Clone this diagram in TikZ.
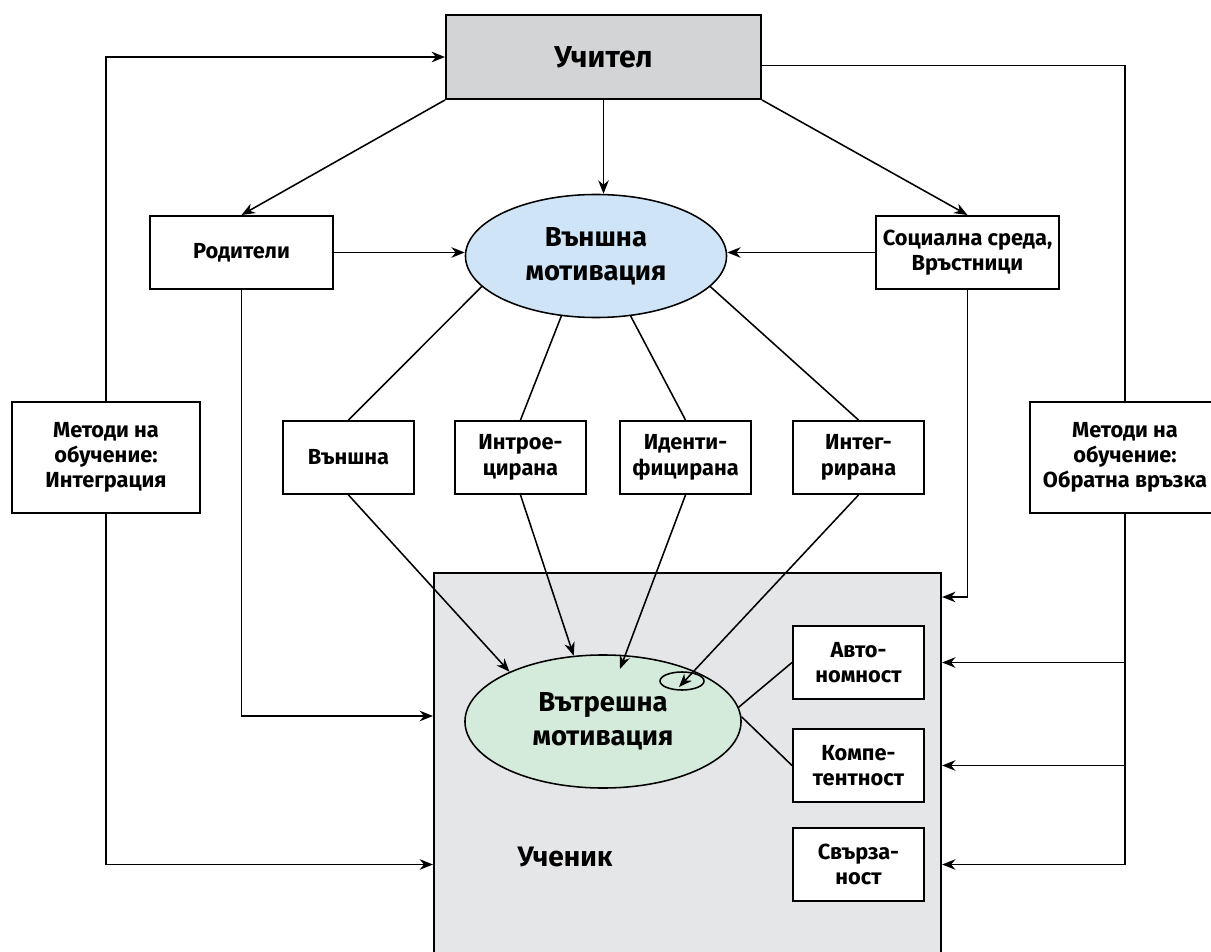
\documentclass[tikz,border=0pt]{standalone}
\usepackage{fontspec}
\setmainfont{Fira Sans}[Language=Bulgarian]
\usetikzlibrary{arrows.meta,shapes.geometric,calc}

\definecolor{uchitelgray}{RGB}{211,212,214}
\definecolor{vanshnablue}{RGB}{207,228,246}
\definecolor{vatreshnagreen}{RGB}{212,234,218}
\definecolor{ucenikgray}{RGB}{229,230,232}

\begin{document}
\begin{tikzpicture}[x=0.025cm,y=-0.025cm,
	box/.style={draw,line width=1.4pt,fill=white,align=center,inner sep=0pt,
		minimum width=3.275cm,minimum height=1.825cm,font=\fontsize{15.5}{18}\selectfont\bfseries},
	wide/.style={box,minimum width=4.575cm},
	metod/.style={box,minimum width=4.7cm,minimum height=2.775cm},
	motiv/.style={draw,ellipse,line width=1.1pt,inner sep=0pt,align=center,
		font=\fontsize{19.5}{24}\selectfont\bfseries},
	arr/.style={line width=1.1pt,-{Stealth[length=9.5pt,width=7.5pt]}},
	link/.style={line width=1.1pt}]
	
	\useasboundingbox (0,0) rectangle (1211,952);
	
	\node[box,fill=ucenikgray,anchor=north west,minimum width=12.675cm,minimum height=9.9cm] (ucenik) at (433,572) {};
	\node[font=\fontsize{20}{24}\selectfont\bfseries] (uceniktext) at (565,857) {Ученик};
	
	\node[box,fill=uchitelgray,minimum width=7.875cm,minimum height=2.1cm,font=\fontsize{21.5}{24}\selectfont\bfseries] (uchitel) at (603.5,57) {Учител};
	\node[wide] (roditeli) at (241.5,252.5) {Родители};
	\node[wide] (sotsialna) at (967.5,252.5) {Социална среда,\\Връстници};
	\node[motiv,fill=vanshnablue,minimum width=6.525cm,minimum height=3.075cm] (vanshna) at (596,256) {Външна\\мотивация};
	
	\node[metod] (ml) at (106,457.5) {Методи на\\обучение:\\Интеграция};
	\node[metod,minimum width=4.75cm] (mr) at (1125,457.5) {Методи на\\обучение:\\Обратна връзка};
	
	\node[box] (vn) at (348.5,457.5) {Външна};
	\node[box] (intro) at (520.5,457.5) {Интрое-\\цирана};
	\node[box] (ident) at (685.5,457.5) {Иденти-\\фицирана};
	\node[box] (integ) at (858.5,457.5) {Интег-\\рирана};
	
	\node[motiv,fill=vatreshnagreen,minimum width=6.9cm,minimum height=3.325cm] (vatreshna) at (603,721.5) {Вътрешна\\мотивация};
	\node[draw,ellipse,line width=1.1pt,minimum width=1.1cm,minimum height=0.45cm] (fokus) at (682,681) {};
	\coordinate (tip3) at (620,669);
	\coordinate (tip4) at (679,687);
	
	\node[box] (avt) at (858.5,662.5) {Авто-\\номност};
	\node[box] (komp) at (858.5,765.5) {Компе-\\тентност};
	\node[box] (svarz) at (858.5,864.5) {Свърза-\\ност};
	
	\draw[arr] (uchitel.south west) -- (roditeli.north);
	\draw[arr] (uchitel.south) -- (uchitel.south |- vanshna.north);
	\draw[arr] (uchitel.south east) -- (sotsialna.north);
	\draw[arr] (roditeli.east) -- (vanshna.west |- roditeli.east);
	\draw[arr] (sotsialna.west) -- (vanshna.east |- sotsialna.west);
	
	\draw[link] (vanshna.195) -- (vn.north);
	\draw[link] (vanshna.240) -- (intro.north);
	\draw[link] (vanshna.300) -- (ident.north);
	\draw[link] (vanshna.345) -- (integ.north);
	
	\draw[arr] (vn.south) -- (vatreshna.152);
	\draw[arr] (intro.south) -- (vatreshna.114);
	\draw[arr] (ident.south) -- (tip3);
	\draw[arr] (integ.south) -- (tip4);
	
	\draw[link] (vatreshna.6) -- (avt.west);
	\draw[link] (vatreshna.2) -- (komp.west);
	
	\draw[arr] (roditeli.south) |- (ucenik.west |- 0,716);
	\draw[arr] (sotsialna.south) |- ($(ucenik.north east)+(0,25)$);
	
	\draw[arr] (ml.north) |- (uchitel.west);
	\draw[arr] (ml.south) |- (ucenik.west |- svarz);
	
	\draw[link] (uchitel.357) -| (mr.north);
	\draw[arr] (mr.south) |- (ucenik.east |- svarz);
	\draw[arr] (mr.south |- avt) -- (ucenik.east |- avt);
	\draw[arr] (mr.south |- komp) -- (ucenik.east |- komp);
	
\end{tikzpicture}
\end{document}
